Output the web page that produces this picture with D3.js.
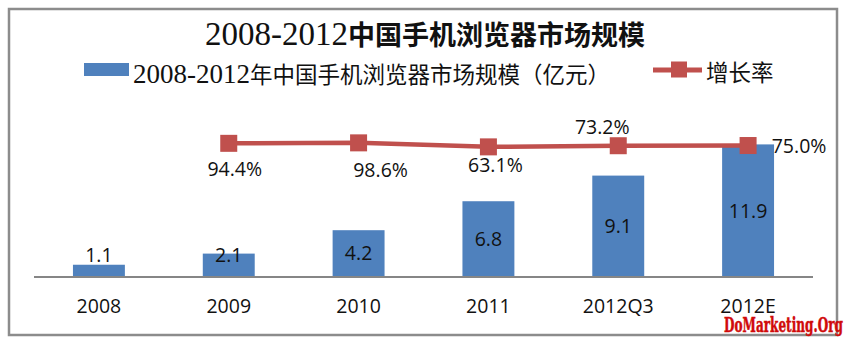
<!DOCTYPE html>
<html>
<head>
<meta charset="utf-8">
<script src="https://cdn.jsdelivr.net/npm/d3@7"></script>
<style>
  html, body { margin: 0; padding: 0; background: #fff; }
  svg { display: block; }
</style>
</head>
<body>
<div id="chart"></div>
<script>
const $ = (element) => d3.select(element);

// market size (亿元) and yearly growth
const categories = ["2008", "2009", "2010", "2011", "2012Q3", "2012E"];
const marketSize = [1.1, 2.1, 4.2, 6.8, 9.1, 11.9];
const growthRate = [null, 94.4, 98.6, 63.1, 73.2, 75.0];

const colors = {
  bar: "#4f81bd",
  line: "#c0504d",
  axis: "#868686",
  frame: "#8c8c8c",
  mark: "#d00a0a",
};

const width = 848;
const height = 345;
const latin = "'Open Sans', 'Liberation Sans', sans-serif";
const serif = "'Liberation Serif', 'DejaVu Serif', serif";
const cjk = "'Noto Sans CJK SC', sans-serif";
const labelSize = 19.5;

// where each growth label sits relative to its marker
const rateLabelShift = [null, [6, 26], [22, 27], [7, 18], [-16, -19], [51, 1]];

const svg = $("#chart")
  .append("svg")
  .attr("width", width)
  .attr("height", height)
  .attr("viewBox", [0, 0, width, height]);

svg.append("rect")
  .attr("x", 9)
  .attr("y", 9)
  .attr("width", 828)
  .attr("height", 326)
  .attr("fill", "#fff")
  .attr("stroke", colors.frame)
  .attr("stroke-width", 2.5);

// title: latin digits in serif, chinese in bold sans
const title = svg.append("text")
  .attr("x", width / 2 + 1)
  .attr("y", 45)
  .attr("text-anchor", "middle")
  .attr("fill", "#111");
title.append("tspan")
  .attr("font-family", serif)
  .attr("font-size", 33)
  .text("2008-2012");
title.append("tspan")
  .attr("font-family", cjk)
  .attr("font-weight", 700)
  .attr("font-size", 27)
  .text("中国手机浏览器市场规模");

// legend
svg.append("rect")
  .attr("x", 84)
  .attr("y", 63)
  .attr("width", 45)
  .attr("height", 13)
  .attr("fill", colors.bar);
const legendBar = svg.append("text")
  .attr("x", 133)
  .attr("y", 83)
  .attr("fill", "#111");
legendBar.append("tspan")
  .attr("font-family", serif)
  .attr("font-size", 27)
  .text("2008-2012");
legendBar.append("tspan")
  .attr("font-family", cjk)
  .attr("font-size", 22.5)
  .text("年中国手机浏览器市场规模（亿元）");

svg.append("line")
  .attr("x1", 653)
  .attr("x2", 702)
  .attr("y1", 70)
  .attr("y2", 70)
  .attr("stroke", colors.line)
  .attr("stroke-width", 5);
svg.append("rect")
  .attr("x", 671)
  .attr("y", 61.5)
  .attr("width", 16)
  .attr("height", 16)
  .attr("fill", colors.line);
svg.append("text")
  .attr("x", 706)
  .attr("y", 81)
  .attr("font-family", cjk)
  .attr("font-size", 22.5)
  .attr("fill", "#111")
  .text("增长率");

// scales
const x = d3.scaleBand()
  .domain(categories)
  .range([34, 813])
  .paddingInner(0.6)
  .paddingOuter(0.3);
const y = d3.scaleLinear().domain([0, 14]).range([277, 121]);
const yRate = d3.scaleLinear().domain([0, 100]).range([154, 142.7]);
const baseline = y(0);

// bars
svg.append("g")
  .selectAll("rect")
  .data(marketSize)
  .join("rect")
  .attr("x", (_, i) => x(categories[i]))
  .attr("y", (d) => y(d))
  .attr("width", x.bandwidth())
  .attr("height", (d) => baseline - y(d))
  .attr("fill", colors.bar);

svg.append("g")
  .selectAll("text")
  .data(marketSize)
  .join("text")
  .attr("x", (_, i) => x(categories[i]) + x.bandwidth() / 2)
  .attr("y", (d) => Math.min((y(d) + baseline) / 2, baseline - 22))
  .attr("dy", "0.35em")
  .attr("text-anchor", "middle")
  .attr("font-family", latin)
  .attr("font-size", labelSize)
  .attr("fill", "#111")
  .text((d) => d.toFixed(1));

// category axis
const xAxis = svg.append("g")
  .attr("transform", `translate(0,${baseline})`)
  .call(d3.axisBottom(x).tickSize(0).tickPadding(22));
xAxis.select(".domain")
  .attr("stroke", colors.axis)
  .attr("stroke-width", 2)
  .attr("d", `M34,0H813`);
xAxis.selectAll("text")
  .attr("font-family", latin)
  .attr("font-size", labelSize)
  .attr("fill", "#111");

// growth line
const rates = growthRate
  .map((v, i) => ({ v, i, cx: x(categories[i]) + x.bandwidth() / 2 }))
  .filter((d) => d.v !== null);

svg.append("path")
  .datum(rates)
  .attr("fill", "none")
  .attr("stroke", colors.line)
  .attr("stroke-width", 4.5)
  .attr("d", d3.line().x((d) => d.cx).y((d) => yRate(d.v)));

svg.append("g")
  .selectAll("rect")
  .data(rates)
  .join("rect")
  .attr("x", (d) => d.cx - 8.5)
  .attr("y", (d) => yRate(d.v) - 8.5)
  .attr("width", 17)
  .attr("height", 17)
  .attr("fill", colors.line);

svg.append("g")
  .selectAll("text")
  .data(rates)
  .join("text")
  .attr("x", (d) => d.cx + rateLabelShift[d.i][0])
  .attr("y", (d) => yRate(d.v) + rateLabelShift[d.i][1])
  .attr("dy", "0.35em")
  .attr("text-anchor", "middle")
  .attr("font-family", latin)
  .attr("font-size", labelSize)
  .attr("fill", "#111")
  .text((d) => d.v.toFixed(1) + "%");

// site mark, stroked a little to look heavier
svg.append("text")
  .attr("x", 724)
  .attr("y", 332)
  .attr("font-family", "'DejaVu Serif', serif")
  .attr("font-weight", 700)
  .attr("font-size", 20)
  .attr("textLength", 119)
  .attr("lengthAdjust", "spacingAndGlyphs")
  .attr("fill", colors.mark)
  .attr("stroke", colors.mark)
  .attr("stroke-width", 0.5)
  .text("DoMarketing.Org");
</script>
</body>
</html>
